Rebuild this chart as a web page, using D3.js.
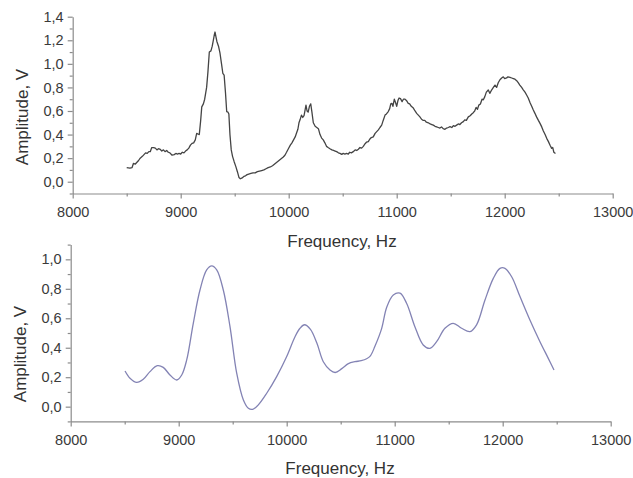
<!DOCTYPE html>
<html>
<head>
<meta charset="utf-8">
<script src="https://cdn.jsdelivr.net/npm/d3@7"></script>
<style>
  body { margin: 0; background: #fff; }
  svg { display: block; font-family: "Liberation Sans", Arial, sans-serif; }
  .axis path, .axis line { stroke: #8c8c8c; stroke-width: 1.2; }
  .axis text { fill: #3a3a3a; font-size: 14.5px; }
  .title { fill: #333; font-size: 17px; }
</style>
</head>
<body>
<script>
// measured spectrum (top) and fitted curve (bottom)
const topFreq = [8500, 8530, 8550, 8562, 8580, 8595, 8610, 8625, 8645, 8660, 8675, 8690, 8705, 8718, 8732, 8750, 8765, 8780, 8795, 8810,
  8825, 8840, 8855, 8870, 8885, 8900, 8920, 8940, 8955, 8970, 8985, 9000, 9015, 9030, 9045, 9060, 9075, 9090, 9105, 9120,
  9135, 9148, 9160, 9172, 9185, 9195, 9210, 9222, 9240, 9252, 9265, 9280, 9292, 9302, 9312, 9318, 9326, 9335, 9350, 9364,
  9378, 9390, 9402, 9415, 9426, 9438, 9446, 9456, 9468, 9480, 9495, 9510, 9525, 9540, 9552, 9565, 9585, 9600, 9615, 9630,
  9650, 9670, 9690, 9710, 9730, 9750, 9770, 9790, 9810, 9830, 9850, 9870, 9890, 9910, 9930, 9950, 9965, 9980, 9997, 10015,
  10030, 10045, 10060, 10075, 10085, 10095, 10105, 10118, 10130, 10142, 10152, 10160, 10170, 10180, 10192, 10204, 10215, 10228, 10245, 10260,
  10275, 10290, 10305, 10320, 10335, 10350, 10365, 10382, 10400, 10415, 10430, 10444, 10460, 10475, 10491, 10505, 10520, 10535, 10552, 10565,
  10580, 10598, 10615, 10630, 10645, 10660, 10675, 10691, 10705, 10720, 10737, 10750, 10765, 10783, 10800, 10815, 10830, 10845, 10861, 10875,
  10892, 10905, 10922, 10935, 10945, 10955, 10965, 10978, 10990, 11000, 11012, 11022, 11035, 11050, 11062, 11077, 11090, 11107, 11120, 11135,
  11154, 11170, 11185, 11200, 11215, 11230, 11246, 11260, 11275, 11293, 11310, 11325, 11339, 11355, 11370, 11385, 11400, 11415, 11430, 11447,
  11462, 11478, 11494, 11510, 11525, 11540, 11555, 11570, 11585, 11600, 11617, 11630, 11645, 11663, 11680, 11695, 11709, 11722, 11735, 11748,
  11760, 11775, 11790, 11802, 11815, 11830, 11848, 11862, 11880, 11895, 11910, 11925, 11940, 11956, 11972, 11987, 12000, 12018, 12030, 12049,
  12065, 12080, 12095, 12111, 12125, 12140, 12157, 12172, 12188, 12203, 12218, 12235, 12250, 12265, 12280, 12295, 12312, 12327, 12343, 12358,
  12374, 12389, 12405, 12420, 12435, 12445, 12455, 12470];
const topAmp = [0.12, 0.115, 0.12, 0.155, 0.15, 0.165, 0.18, 0.20, 0.215, 0.23, 0.245, 0.24, 0.255, 0.255, 0.29, 0.29, 0.285, 0.27, 0.28, 0.275,
  0.26, 0.27, 0.255, 0.265, 0.25, 0.245, 0.225, 0.23, 0.24, 0.235, 0.24, 0.235, 0.25, 0.245, 0.26, 0.27, 0.285, 0.31, 0.325, 0.33,
  0.355, 0.41, 0.405, 0.40, 0.52, 0.635, 0.66, 0.70, 0.80, 0.93, 1.10, 1.11, 1.15, 1.20, 1.25, 1.27, 1.23, 1.19, 1.15, 1.09,
  1.00, 0.92, 0.905, 0.75, 0.594, 0.59, 0.575, 0.40, 0.27, 0.215, 0.17, 0.13, 0.085, 0.035, 0.025, 0.03, 0.045, 0.05, 0.06, 0.065,
  0.07, 0.075, 0.075, 0.085, 0.09, 0.095, 0.10, 0.11, 0.12, 0.125, 0.135, 0.15, 0.165, 0.18, 0.195, 0.21, 0.225, 0.25, 0.28, 0.31,
  0.33, 0.355, 0.38, 0.42, 0.445, 0.50, 0.525, 0.565, 0.545, 0.56, 0.61, 0.65, 0.60, 0.59, 0.64, 0.66, 0.59, 0.50, 0.47, 0.46,
  0.45, 0.40, 0.37, 0.355, 0.33, 0.30, 0.29, 0.28, 0.27, 0.265, 0.26, 0.255, 0.245, 0.24, 0.232, 0.24, 0.235, 0.24, 0.235, 0.25,
  0.245, 0.255, 0.27, 0.265, 0.275, 0.29, 0.285, 0.30, 0.32, 0.335, 0.34, 0.36, 0.375, 0.38, 0.41, 0.425, 0.44, 0.46, 0.48, 0.52,
  0.565, 0.575, 0.595, 0.62, 0.66, 0.665, 0.64, 0.70, 0.67, 0.64, 0.69, 0.71, 0.705, 0.68, 0.70, 0.70, 0.69, 0.665, 0.66, 0.64,
  0.625, 0.60, 0.58, 0.565, 0.55, 0.53, 0.52, 0.52, 0.505, 0.50, 0.49, 0.485, 0.48, 0.47, 0.465, 0.46, 0.455, 0.465, 0.45, 0.445,
  0.455, 0.46, 0.467, 0.46, 0.475, 0.47, 0.48, 0.49, 0.485, 0.50, 0.51, 0.525, 0.52, 0.55, 0.56, 0.575, 0.586, 0.60, 0.63, 0.615,
  0.65, 0.66, 0.70, 0.695, 0.72, 0.76, 0.778, 0.75, 0.78, 0.80, 0.82, 0.80, 0.84, 0.865, 0.88, 0.89, 0.875, 0.88, 0.89, 0.885,
  0.88, 0.875, 0.87, 0.857, 0.84, 0.82, 0.80, 0.78, 0.76, 0.736, 0.71, 0.67, 0.64, 0.608, 0.58, 0.55, 0.52, 0.495, 0.465, 0.43,
  0.40, 0.368, 0.34, 0.31, 0.283, 0.29, 0.25, 0.24];

const botFreq = [8503, 8549, 8611, 8672, 8734, 8802, 8857, 8919, 8981, 9028, 9074, 9135, 9197, 9259, 9306, 9352, 9413, 9475, 9537, 9599,
  9645, 9685, 9737, 9815, 9907, 9999, 10077, 10123, 10165, 10220, 10280, 10339, 10401, 10449, 10510, 10571, 10632, 10690, 10740, 10775,
  10817, 10879, 10926, 10987, 11049, 11110, 11187, 11264, 11326, 11388, 11465, 11542, 11620, 11697, 11758, 11836, 11913, 11975, 12021, 12083,
  12160, 12252, 12345, 12422, 12475];
const botAmp = [0.242, 0.193, 0.165, 0.186, 0.238, 0.278, 0.267, 0.215, 0.181, 0.215, 0.317, 0.566, 0.792, 0.928, 0.955, 0.928, 0.792, 0.543, 0.227, 0.045,
  -0.011, -0.018, 0.012, 0.091, 0.204, 0.339, 0.475, 0.532, 0.556, 0.525, 0.43, 0.305, 0.249, 0.232, 0.258, 0.292, 0.305, 0.312, 0.325, 0.345,
  0.41, 0.53, 0.675, 0.758, 0.77, 0.702, 0.543, 0.419, 0.396, 0.441, 0.532, 0.566, 0.532, 0.509, 0.555, 0.724, 0.871, 0.939, 0.939, 0.882,
  0.747, 0.588, 0.441, 0.328, 0.249];

const xTicks = [8000, 9000, 10000, 11000, 12000, 13000];
const xMinor = [8500, 9500, 10500, 11500, 12500];
const topYTicks = [0, 0.2, 0.4, 0.6, 0.8, 1.0, 1.2, 1.4];
const botYTicks = [0, 0.2, 0.4, 0.6, 0.8, 1.0];

const WIDTH = 633, HEIGHT = 478;
const commaFmt = d3.formatLocale({ decimal: ',', thousands: '', grouping: [3], currency: ['', ''] }).format('.1f');

const svg = d3.select('body').append('svg')
  .attr('width', WIDTH)
  .attr('height', HEIGHT);

function drawPanel(p) {
  const x = d3.scaleLinear().domain([8000, 13000]).range([p.left, p.right]);
  const y = d3.scaleLinear().domain(p.yDomain).range([p.bottom, p.top]);
  const g = svg.append('g');

  // minor ticks first, then major axes over them
  const yMinor = d3.range(p.yDomain[0], p.yDomain[1] + 0.001, 0.1)
    .filter(v => Math.abs(Math.round(v * 10) % 2) === 1);
  g.append('g').attr('class', 'axis')
    .attr('transform', `translate(0,${p.bottom})`)
    .call(d3.axisBottom(x).tickValues(xMinor).tickSize(3).tickFormat(''))
    .select('.domain').remove();
  g.append('g').attr('class', 'axis')
    .attr('transform', `translate(${p.left},0)`)
    .call(d3.axisLeft(y).tickValues(yMinor).tickSize(3).tickFormat(''))
    .select('.domain').remove();

  g.append('g').attr('class', 'axis')
    .attr('transform', `translate(0,${p.bottom})`)
    .call(d3.axisBottom(x).tickValues(xTicks).tickSize(5).tickSizeOuter(0).tickPadding(8).tickFormat(d3.format('d')));

  g.append('g').attr('class', 'axis')
    .attr('transform', `translate(${p.left},0)`)
    .call(d3.axisLeft(y).tickValues(p.yTicks).tickSize(5).tickSizeOuter(0).tickPadding(4).tickFormat(commaFmt));

  const line = d3.line()
    .x((d, i) => x(p.freq[i]))
    .y(d => y(d))
    .curve(p.curve);

  g.append('path')
    .datum(p.amp)
    .attr('fill', 'none')
    .attr('stroke', p.color)
    .attr('stroke-width', p.width)
    .attr('stroke-linejoin', 'round')
    .attr('d', line);

  g.append('text')
    .attr('class', 'title')
    .attr('x', p.xLabel[0])
    .attr('y', p.xLabel[1])
    .attr('text-anchor', 'middle')
    .text('Frequency, Hz');

  g.append('text')
    .attr('class', 'title')
    .attr('transform', `translate(${p.yLabel[0]},${p.yLabel[1]}) rotate(-90)`)
    .attr('text-anchor', 'middle')
    .attr('dy', '0.35em')
    .text('Amplitude, V');
}

drawPanel({
  left: 72.7, right: 612.7, top: 16.7, bottom: 193.5,
  yDomain: [-0.1, 1.4], yTicks: topYTicks,
  freq: topFreq, amp: topAmp,
  curve: d3.curveLinear, color: '#444', width: 1.3,
  xLabel: [342, 247], yLabel: [22, 117]
});

drawPanel({
  left: 70.7, right: 610.7, top: 244.6, bottom: 421.4,
  yDomain: [-0.1, 1.1], yTicks: botYTicks,
  freq: botFreq, amp: botAmp,
  curve: d3.curveCatmullRom, color: '#8383b4', width: 1.3,
  xLabel: [340, 474], yLabel: [20, 354]
});
</script>
</body>
</html>
